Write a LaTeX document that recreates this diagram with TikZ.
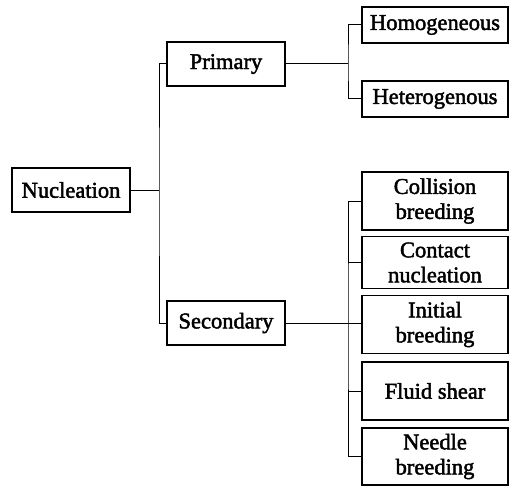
\documentclass[tikz,border=0pt]{standalone}
\usepackage{fontspec}
\setmainfont{Liberation Serif}
\newfontfamily\boxfont{Liberation Serif}[FakeBold=2]
\begin{document}
\begin{tikzpicture}[x=1pt,y=-1pt,
  box/.style={draw=black,line width=1.2pt,inner sep=0pt,align=center,
    font=\boxfont\fontsize{22.5}{25}\selectfont},
  conn/.style={draw=black,line width=1pt}]
\useasboundingbox (0,0) rectangle (510,486);
\node[box,minimum width=118pt,minimum height=44pt] (nuc) at (71,190) {Nucleation};
\node[box,minimum width=118pt,minimum height=44pt] (prim) at (226,64) {Primary};
\node[box,minimum width=118pt,minimum height=44pt] (sec) at (226,323) {Secondary};
\node[box,minimum width=146pt,minimum height=36pt] (homo) at (435,25) {Homogeneous};
\node[box,minimum width=146pt,minimum height=36pt] (het) at (435,99) {Heterogenous};
\node[box,minimum width=146pt,minimum height=58pt] (coll) at (435,201) {Collision\\breeding};
\node[box,minimum width=146pt,minimum height=52pt] (cont) at (435,262.5) {Contact\\nucleation};
\node[box,minimum width=146pt,minimum height=58pt] (init) at (435,324.5) {Initial\\breeding};
\node[box,minimum width=146pt,minimum height=58pt] (fluid) at (435,391) {Fluid shear};
\node[box,minimum width=146pt,minimum height=57pt] (need) at (435,456.5) {Needle\\breeding};
\coordinate (tA) at (159,190);
\coordinate (tB) at (348,64);
\coordinate (tC) at (348,324);
\draw[conn] (nuc.east) -- (tA);
\draw[conn] (prim.west) -| (tA) |- (sec.west);
\draw[conn] (prim.east) -- (tB);
\draw[conn] (homo.west) -| (tB) |- (het.west);
\draw[conn] (sec.east) -- (sec.east -| init.west);
\draw[conn] (coll.west) -| (tC) |- (need.west);
\draw[conn] (cont.west) -- (cont.west -| tC);
\draw[conn] (fluid.west) -- (fluid.west -| tC);
\end{tikzpicture}
\end{document}
